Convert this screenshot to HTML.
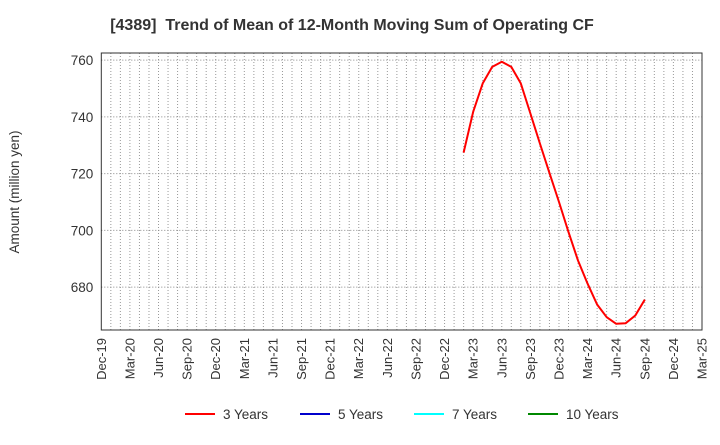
<!DOCTYPE html>
<html><head><meta charset="utf-8"><style>
body{margin:0;background:#fff;font-family:"Liberation Sans",sans-serif}
</style></head><body>
<svg width="720" height="440" xmlns="http://www.w3.org/2000/svg" font-family="Liberation Sans, sans-serif">
<text x="352" y="30" text-anchor="middle" font-size="16" font-weight="bold" fill="#333">[4389]&#160; Trend of Mean of 12-Month Moving Sum of Operating CF</text>
<text transform="translate(19,192) rotate(-90)" text-anchor="middle" font-size="13.5" fill="#333">Amount (million yen)</text>
<g id="grid"></g>
<g id="axes"></g>
<g id="series"></g>
<g id="legend"></g>
</svg>
<script>
const monthLabels=["Dec-19","Mar-20","Jun-20","Sep-20","Dec-20","Mar-21","Jun-21","Sep-21","Dec-21","Mar-22","Jun-22","Sep-22","Dec-22","Mar-23","Jun-23","Sep-23","Dec-23","Mar-24","Jun-24","Sep-24","Dec-24","Mar-25"];
const yTicks=[680,700,720,740,760];
const series3Start=38; // months after Dec-19 (Feb-23)
const series3=[727.4,741.8,751.8,757.6,759.4,757.6,751.8,741.2,730.6,720.3,710,699.4,689.4,681.2,673.9,669.4,667.1,667.3,670,675.6];
const L=101.3,R=702,T=53,B=330,yMin=664.9,yMax=762.5,nMonths=63;
const xs=m=>L+(R-L)*m/nMonths;
const ys=v=>B-(B-T)*(v-yMin)/(yMax-yMin);
const NS="http://www.w3.org/2000/svg";
function mk(tag,attrs,parent,text){const e=document.createElementNS(NS,tag);for(const k in attrs)e.setAttribute(k,attrs[k]);if(text!==undefined)e.textContent=text;document.getElementById(parent).appendChild(e);return e;}
for(let m=1;m<nMonths;m++){
  const e=mk("line",{x1:xs(m),x2:xs(m),y1:T,y2:B,stroke:"#999","stroke-dasharray":"1,2","stroke-width":1},"grid");
  
  
}
yTicks.forEach(v=>{
  const g=mk("line",{x1:L,x2:R,y1:ys(v),y2:ys(v),stroke:"#888","stroke-dasharray":"1,2","stroke-width":1},"grid");
  
  
  const t=mk("text",{x:L-8,y:ys(v)+5,"text-anchor":"end","font-size":13.5,fill:"#333"},"axes",v);
  
  
});
const frame=mk("rect",{x:L,y:T,width:R-L,height:B-T,fill:"none",stroke:"#333","stroke-width":1},"axes");


monthLabels.forEach((lab,i)=>{
  const x=xs(i*3);
  const t=mk("text",{transform:`translate(${x+4.5},${B+8}) rotate(-90)`,"text-anchor":"end","font-size":13,fill:"#333"},"axes",lab);
  
  
});
const pts=series3.map((v,i)=>xs(series3Start+i).toFixed(1)+","+ys(v).toFixed(1)).join(" ");
const pl=mk("polyline",{points:pts,fill:"none",stroke:"#f00","stroke-width":2,"stroke-linejoin":"round"},"series");


const leg=[["3 Years","#f00",185],["5 Years","#00c",300],["7 Years","#0ff",414],["10 Years","#080",528]];
leg.forEach(([n,c,x])=>{
  const l=mk("line",{x1:x,x2:x+30,y1:414,y2:414,stroke:c,"stroke-width":2},"legend");
  
  
  const t=mk("text",{x:x+38,y:419,"font-size":13.5,fill:"#333"},"legend",n);
  
  
});
</script>
</body></html>
